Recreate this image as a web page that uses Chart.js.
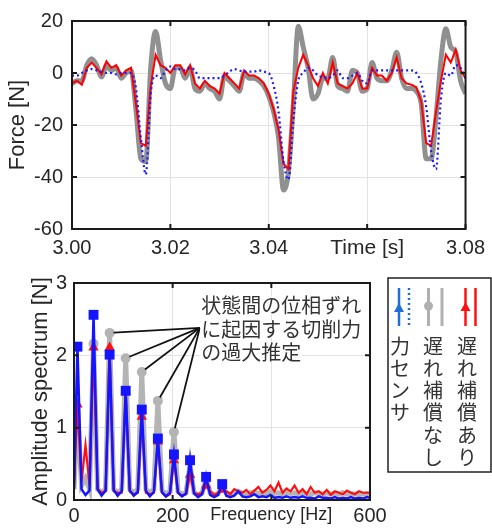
<!DOCTYPE html>
<html>
<head>
<meta charset="utf-8">
<script src="https://cdn.jsdelivr.net/npm/chart.js@4.4.0/dist/chart.umd.min.js"></script>
<style>
body { margin: 0; background: #fff; }
#wrap { position: relative; width: 492px; height: 529px; }
#forceChart { position: absolute; left: 0; top: 0; }
#specChart { position: absolute; left: 0; top: 262px; }
</style>
</head>
<body>
<div id="wrap">
  <canvas id="forceChart" width="492" height="262"></canvas>
  <canvas id="specChart" width="492" height="267"></canvas>
</div>
<script>
// ---- time series (top) ----
const timeS = [
  3.000, 3.001, 3.002, 3.003, 3.004, 3.005, 3.006, 3.007, 3.008, 3.009,
  3.010, 3.011, 3.012, 3.013, 3.014, 3.015, 3.016, 3.017, 3.018, 3.019,
  3.020, 3.021, 3.022, 3.023, 3.024, 3.025, 3.026, 3.027, 3.028, 3.029,
  3.030, 3.031, 3.032, 3.033, 3.034, 3.035, 3.036, 3.037, 3.038, 3.039,
  3.040, 3.041, 3.042, 3.043, 3.044, 3.045, 3.046, 3.047, 3.048, 3.049,
  3.050, 3.051, 3.052, 3.053, 3.054, 3.055, 3.056, 3.057, 3.058, 3.059,
  3.060, 3.061, 3.062, 3.063, 3.064, 3.065, 3.066, 3.067, 3.068, 3.069,
  3.070, 3.071, 3.072, 3.073, 3.074, 3.075, 3.076, 3.077, 3.078, 3.079,
  3.080
];
// 力センサ (blue dotted)
const forceSensor = [
  -1, -1, 0, 1, 1.5, 1, 0.5, 0, 0, -0.5,
  0, 0, 0, -6, -25, -39, -8, -1, -2, 1,
  2.5, 1.5, 1.5, 1, 2, 1, -2, -2, -2, -2,
  -2, -1, 0.5, 1.5, 1, 0.5, 0.5, 0.5, 1, 0.5,
  0, -5, -15, -34, -41, -18, -3, 0, 2, 1,
  -1, -1.5, -2, -1, 1, -2, -2, -1, 0, -3,
  -4, 1, 1, 1, 1, 1, 1, 1, 1, 1,
  0, -4, -13, -30, -37, -10, 0, -1, 3, 2,
  -2
];
// 遅れ補償なし (gray thick)
const forceNoComp = [
  -4, -3, -3, 3, 5.5, 3, -1.5, 3, 1, 2,
  -2, 0, 1, -14, -33, -34, 2, 16, 5, -4,
  -6, 2, 2, -2, 2, -6, -7, -4, -6, -7,
  -10, -1, -3, -5, -7, 0, -2, -2, -3, -5,
  -9, -15, -25, -45, -38, -12, 18, 10, 2, -10,
  -8, -2, -2, 6, -5, -6, -7, 1, 0, -7,
  -6, 4, -2, -3, -3, 1, 8, -2, -6, -6,
  -7, -12, -33, -33, -17, 5, 17, 10, 8, -3,
  -8
];
// 遅れ補償あり (red)
const forceComp = [
  -4, -3, -4.5, 2, 4, 2, -0.5, 4.5, 2, 3,
  -1, 1, 2, -12, -27, -28, -5, 7, 3, 2,
  0, 3, 3, -0.5, 3, -4, -6, -3, -5, -6,
  -8, 0, -2, -4, -6, 1, -1, -1, -2, -4,
  -8, -14, -22, -35, -37, -7, 2, 7, 3, -2,
  -5, 0, -4, 4, -4, -5, -6, -4, 0, -6,
  -6, 2, -1, -1, -3, 0, 6, -2, -4, -4.5,
  -5.5, -11, -27, -28, -15, -3, 7, 4, 9, 1,
  -2
];

// ---- amplitude spectrum (bottom) ----
const freqHz = [
  0, 7.0, 15.2, 23.3, 31.5, 39.6, 47.8, 55.9, 64.1, 72.2,
  80.4, 88.5, 96.7, 104.8, 113.0, 121.1, 129.3, 137.4, 145.6, 153.7,
  161.9, 170.0, 178.2, 186.3, 194.5, 202.6, 210.8, 218.9, 227.1, 235.2,
  243.4, 251.5, 259.7, 267.8, 276.0, 284.1, 292.3, 300.4, 308.6, 316.7,
  324.9, 333.0, 341.2, 349.3, 357.5, 365.6, 373.8, 381.9, 390.1, 398.2,
  406.4, 414.5, 422.7, 430.8, 439.0, 447.1, 455.3, 463.4, 471.6, 479.7,
  487.9, 496.0, 504.2, 512.3, 520.5, 528.6, 536.8, 544.9, 553.1, 561.2,
  569.4, 577.5, 585.7, 593.8, 600
];
const sensorAmp = [
  0.15, 2.12, 0.15, 0.07, 0.13, 2.56, 0.15, 0.06, 0.13, 2.01,
  0.14, 0.06, 0.12, 1.51, 0.13, 0.06, 0.11, 1.25, 0.13, 0.05,
  0.11, 0.85, 0.11, 0.05, 0.10, 0.63, 0.10, 0.05, 0.09, 0.55,
  0.09, 0.04, 0.08, 0.32, 0.07, 0.04, 0.07, 0.22, 0.06, 0.04,
  0.06, 0.12, 0.05, 0.04, 0.05, 0.08, 0.04, 0.05, 0.04, 0.07,
  0.03, 0.04, 0.03, 0.05, 0.03, 0.04, 0.03, 0.05, 0.03, 0.03,
  0.02, 0.05, 0.03, 0.03, 0.02, 0.04, 0.02, 0.03, 0.02, 0.04,
  0.02, 0.03, 0.02, 0.04, 0.03
];
const noCompAmp = [
  0.15, 1.30, 0.20, 0.30, 0.15, 2.16, 0.15, 0.10, 0.15, 2.31,
  0.15, 0.10, 0.15, 1.96, 0.15, 0.10, 0.15, 1.77, 0.15, 0.10,
  0.15, 1.37, 0.14, 0.08, 0.12, 0.94, 0.12, 0.08, 0.10, 0.50,
  0.10, 0.07, 0.10, 0.30, 0.10, 0.07, 0.09, 0.20, 0.10, 0.08,
  0.10, 0.12, 0.09, 0.08, 0.10, 0.11, 0.09, 0.10, 0.08, 0.12,
  0.09, 0.10, 0.08, 0.11, 0.09, 0.10, 0.08, 0.10, 0.09, 0.08,
  0.10, 0.09, 0.08, 0.10, 0.08, 0.09, 0.08, 0.10, 0.08, 0.09,
  0.08, 0.09, 0.08, 0.09, 0.08
];
const compAmp = [
  0.20, 1.32, 0.25, 0.76, 0.20, 2.11, 0.15, 0.10, 0.12, 2.11,
  0.12, 0.10, 0.10, 1.50, 0.12, 0.08, 0.10, 1.15, 0.10, 0.08,
  0.10, 0.81, 0.10, 0.05, 0.08, 0.55, 0.10, 0.06, 0.08, 0.35,
  0.10, 0.08, 0.10, 0.20, 0.12, 0.07, 0.10, 0.14, 0.12, 0.08,
  0.15, 0.12, 0.10, 0.14, 0.08, 0.13, 0.18, 0.10, 0.14, 0.20,
  0.12, 0.24, 0.10, 0.16, 0.12, 0.20, 0.10, 0.15, 0.08, 0.18,
  0.10, 0.12, 0.08, 0.14, 0.07, 0.12, 0.10, 0.08, 0.13, 0.10,
  0.08, 0.12, 0.10, 0.10, 0.10
];
const harmonicsHz = [7.0, 39.6, 72.2, 104.8, 137.4, 170.0, 202.6, 235.2, 267.8, 300.4];
const grayMarkHz = [39.6, 72.2, 104.8, 137.4, 170.0, 202.6];
const overEstimatedHz = [72.2, 104.8, 137.4, 170.0, 202.6];
const calloutHub = [255, 2.38];
const calloutLines = ['状態間の位相ずれ', 'に起因する切削力', 'の過大推定'];
const legendNames = ['力センサ', '遅れ補償なし', '遅れ補償あり'];

Chart.defaults.font.family = '"Liberation Sans", Arial, sans-serif';
Chart.defaults.color = '#262626';

const near = (a, b) => Math.abs(a - b) < 1e-6;

// black box + inward ticks, like a matlab axes
const axesBox = {
  id: 'axesBox',
  afterDatasetsDraw(chart) {
    const { ctx, chartArea: a, scales: { x, y } } = chart;
    const len = 5;
    ctx.save();
    ctx.strokeStyle = '#1a1a1a';
    ctx.lineWidth = 2;
    ctx.beginPath();
    x.ticks.forEach(t => {
      const px = x.getPixelForValue(t.value);
      ctx.moveTo(px, a.bottom); ctx.lineTo(px, a.bottom - len);
      ctx.moveTo(px, a.top); ctx.lineTo(px, a.top + len);
    });
    y.ticks.forEach(t => {
      const py = y.getPixelForValue(t.value);
      ctx.moveTo(a.left, py); ctx.lineTo(a.left + len, py);
      ctx.moveTo(a.right, py); ctx.lineTo(a.right - len, py);
    });
    ctx.stroke();
    ctx.strokeRect(a.left, a.top, a.width, a.height);
    ctx.restore();
  }
};

function gridOpts() {
  return { color: '#e2e2e2', lineWidth: 1, drawTicks: false };
}

// ---- top chart ----
const toXY = (xs, ys) => xs.map((v, i) => ({ x: v, y: ys[i] }));

new Chart(document.getElementById('forceChart'), {
  type: 'line',
  data: {
    datasets: [
      { label: '力センサ', data: toXY(timeS, forceSensor), borderColor: '#1a1aff',
        borderWidth: 2.2, borderDash: [2, 3], pointRadius: 0, cubicInterpolationMode: 'monotone' },
      { label: '遅れ補償あり', data: toXY(timeS, forceComp), borderColor: '#ff0000',
        borderWidth: 2, pointRadius: 0, tension: 0 },
      { label: '遅れ補償なし', data: toXY(timeS, forceNoComp), borderColor: '#909090',
        borderWidth: 5, pointRadius: 0, cubicInterpolationMode: 'monotone' }
    ]
  },
  options: {
    responsive: false,
    animation: false,
    layout: { padding: { top: 19, right: 20, left: 0, bottom: 0 } },
    plugins: { legend: { display: false }, tooltip: { enabled: false } },
    scales: {
      x: {
        type: 'linear', min: 3.0, max: 3.08,
        grid: gridOpts(), border: { display: false },
        afterFit: s => { s.height = 33; },
        ticks: {
          stepSize: 0.02, padding: 7, autoSkip: false, maxRotation: 0, minRotation: 0,
          font: c => ({ size: (c.tick && near(c.tick.value, 3.06)) ? 21 : 20 }),
          callback: v => near(v, 3.06) ? 'Time [s]' : v.toFixed(2)
        }
      },
      y: {
        min: -60, max: 20,
        grid: gridOpts(), border: { display: false },
        afterFit: s => { s.width = 72; },
        ticks: { stepSize: 20, padding: 9, font: { size: 20 } },
        title: { display: true, text: 'Force [N]', font: { size: 22 }, padding: { top: 5, bottom: 0 } }
      }
    }
  },
  plugins: [axesBox]
});

// ---- bottom chart ----
const annotate = {
  id: 'annotate',
  afterDatasetsDraw(chart) {
    const { ctx, scales: { x, y } } = chart;
    const hx = x.getPixelForValue(calloutHub[0]);
    const hy = y.getPixelForValue(calloutHub[1]);
    ctx.save();
    ctx.strokeStyle = '#111';
    ctx.lineWidth = 1.8;
    overEstimatedHz.forEach(f => {
      const i = freqHz.indexOf(f);
      const px = x.getPixelForValue(f), py = y.getPixelForValue(noCompAmp[i]);
      const dx = px - hx, dy = py - hy, d = Math.hypot(dx, dy);
      ctx.beginPath();
      ctx.moveTo(hx, hy);
      ctx.lineTo(px - dx / d * 4, py - dy / d * 4);
      ctx.stroke();
    });
    ctx.font = '20px "Noto Sans CJK JP"';
    ctx.textBaseline = 'middle';
    ctx.textAlign = 'left';
    const tx = x.getPixelForValue(258);
    [2.69, 2.36, 2.04].forEach((v, k) => {
      const ty = y.getPixelForValue(v);
      const w = ctx.measureText(calloutLines[k]).width;
      ctx.fillStyle = '#fff';
      ctx.fillRect(tx - 1, ty - 9, w + 2, 18);
      ctx.fillStyle = '#333';
      ctx.fillText(calloutLines[k], tx, ty);
    });
    ctx.restore();
  }
};

const sideLegend = {
  id: 'sideLegend',
  afterDraw(chart) {
    const ctx = chart.ctx;
    ctx.save();
    ctx.strokeStyle = '#222';
    ctx.lineWidth = 1.5;
    ctx.strokeRect(388, 16, 103, 194);

    const vline = (x, color, w, dash) => {
      ctx.beginPath();
      ctx.setLineDash(dash || []);
      ctx.strokeStyle = color;
      ctx.lineWidth = w;
      ctx.moveTo(x, 26); ctx.lineTo(x, 64);
      ctx.stroke();
      ctx.setLineDash([]);
    };
    const tri = (x, y, color) => {
      ctx.beginPath();
      ctx.fillStyle = color;
      ctx.moveTo(x, y - 6); ctx.lineTo(x + 5, y + 3); ctx.lineTo(x - 5, y + 3);
      ctx.closePath(); ctx.fill();
    };
    // 力センサ
    vline(399, '#1f6fd6', 2.5);
    tri(399, 47, '#1f6fd6');
    vline(409, '#1f6fd6', 2.5, [2, 3]);
    // 遅れ補償なし
    vline(428.5, '#b0b0b0', 3);
    ctx.beginPath(); ctx.fillStyle = '#b0b0b0'; ctx.arc(428.5, 44, 4.5, 0, Math.PI * 2); ctx.fill();
    vline(442, '#b0b0b0', 3);
    // 遅れ補償あり
    vline(465.5, '#ff1010', 2.5);
    tri(465.5, 46, '#ff1010');
    vline(475.5, '#ff1010', 2.5);

    ctx.fillStyle = '#333';
    ctx.font = '20px "Noto Sans CJK JP"';
    ctx.textAlign = 'center';
    ctx.textBaseline = 'middle';
    const cols = [400, 433, 467];
    legendNames.forEach((name, k) => {
      Array.from(name).forEach((ch, j) => {
        ctx.fillText(ch, cols[k], 84 + j * 22.3);
      });
    });
    ctx.restore();
  }
};

const markAt = (list, r) => c => list.some(f => near(f, freqHz[c.dataIndex])) ? r : 0;

new Chart(document.getElementById('specChart'), {
  type: 'line',
  data: {
    datasets: [
      { label: '力センサ', data: toXY(freqHz, sensorAmp), borderColor: '#1414ff',
        backgroundColor: '#1414ff', borderWidth: 2.5, pointStyle: 'rect',
        pointRadius: markAt(harmonicsHz, 7), pointBorderWidth: 0 },
      { label: '遅れ補償あり', data: toXY(freqHz, compAmp), borderColor: '#ff1010',
        backgroundColor: '#ff1010', borderWidth: 2.2, pointStyle: 'triangle',
        pointRadius: markAt(harmonicsHz, 6), pointBorderWidth: 0 },
      { label: '遅れ補償なし', data: toXY(freqHz, noCompAmp), borderColor: '#b4b4b4',
        backgroundColor: '#b4b4b4', borderWidth: 5, pointStyle: 'circle',
        pointRadius: markAt(grayMarkHz, 5), pointBorderWidth: 0 }
    ]
  },
  options: {
    responsive: false,
    animation: false,
    layout: { padding: { top: 21, right: 122, left: 0, bottom: 0 } },
    plugins: { legend: { display: false }, tooltip: { enabled: false } },
    scales: {
      x: {
        type: 'linear', min: 0, max: 600,
        grid: gridOpts(), border: { display: false },
        afterFit: s => { s.height = 29; },
        ticks: {
          stepSize: 200, padding: 4, autoSkip: false, maxRotation: 0, minRotation: 0,
          font: c => ({ size: (c.tick && near(c.tick.value, 400)) ? 18 : 20 }),
          callback: v => near(v, 400) ? 'Frequency [Hz]' : String(v)
        }
      },
      y: {
        min: 0, max: 3,
        grid: gridOpts(), border: { display: false },
        afterFit: s => { s.width = 74; },
        ticks: { stepSize: 1, padding: 7, font: { size: 20 } },
        title: { display: true, text: 'Amplitude spectrum [N]', font: { size: 22 }, padding: { top: 28, bottom: 0 } }
      }
    }
  },
  plugins: [axesBox, annotate, sideLegend]
});
</script>
</body>
</html>
